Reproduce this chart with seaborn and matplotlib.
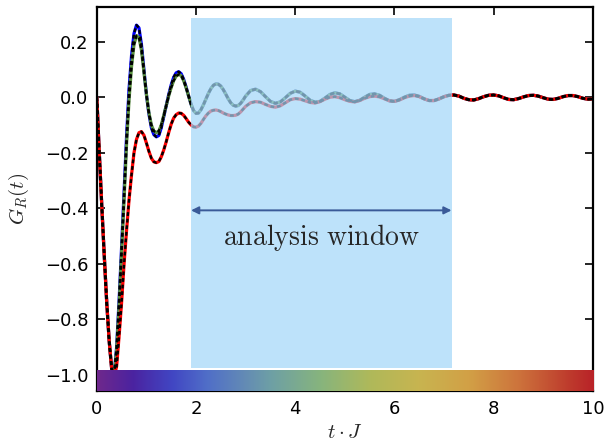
import numpy as np
import seaborn as sns
import matplotlib.pyplot as plt
from matplotlib.colors import LinearSegmentedColormap

# time grid: fine steps early, coarser after t=3
t = np.round(np.r_[np.arange(0, 2.99, 0.05), np.arange(3.0, 10.01, 0.1)], 2)

# blue curve
blue = [0, -0.20, -0.39, -0.57, -0.74, -0.88, -0.98, -1.00, -0.90, -0.73,
        -0.54, -0.34, -0.14, 0.03, 0.15, 0.23, 0.26, 0.25, 0.19, 0.10,
        0.01, -0.06, -0.11, -0.135, -0.143, -0.138, -0.11, -0.07, -0.03, 0.01,
        0.045, 0.072, 0.088, 0.092, 0.085, 0.065, 0.037, 0.005, -0.025, -0.048,
        -0.058, -0.057, -0.045, -0.027, -0.006, 0.014, 0.031, 0.043, 0.048, 0.047,
        0.040, 0.027, 0.011, -0.006, -0.020, -0.029, -0.032, -0.030, -0.022, -0.010,
        0.004, 0.024, 0.029, 0.020, 0.002, -0.015, -0.022, -0.017, -0.002, 0.014,
        0.022, 0.018, 0.004, -0.011, -0.018, -0.015, -0.003, 0.010, 0.016, 0.012,
        0.000, -0.012, -0.016, -0.011, 0.000, 0.010, 0.012, 0.007, -0.004, -0.013,
        -0.015, -0.009, 0.000, 0.007, 0.008, 0.003, -0.006, -0.012, -0.012, -0.006,
        0.002, 0.007, 0.008, 0.004, -0.004, -0.009, -0.010, -0.005, 0.002, 0.007,
        0.008, 0.005, -0.002, -0.008, -0.009, -0.005, 0.001, 0.006, 0.007, 0.004,
        -0.002, -0.007, -0.008, -0.004, 0.002, 0.006, 0.006, 0.002, -0.004, -0.007,
        -0.006]

# green curve differs from blue only up to t=1.85
green_head = [0, -0.20, -0.39, -0.57, -0.74, -0.88, -0.98, -1.00, -0.91, -0.75,
              -0.56, -0.37, -0.17, -0.01, 0.11, 0.19, 0.222, 0.215, 0.17, 0.09,
              0.01, -0.055, -0.10, -0.122, -0.128, -0.122, -0.10, -0.065, -0.03, 0.005,
              0.035, 0.06, 0.076, 0.082, 0.078, 0.06, 0.034, 0.004]
green = green_head + blue[len(green_head):]

# red curve differs from blue up to t=6.5
red_head = [0, -0.20, -0.39, -0.57, -0.74, -0.88, -0.98, -1.01, -0.97, -0.86,
            -0.74, -0.60, -0.48, -0.37, -0.28, -0.20, -0.152, -0.128, -0.124, -0.137,
            -0.165, -0.195, -0.22, -0.233, -0.236, -0.232, -0.215, -0.19, -0.16, -0.127,
            -0.097, -0.075, -0.063, -0.057, -0.058, -0.065, -0.077, -0.09, -0.10, -0.107,
            -0.108, -0.104, -0.094, -0.08, -0.067, -0.057, -0.05, -0.047, -0.046, -0.048,
            -0.052, -0.057, -0.061, -0.064, -0.066, -0.066, -0.065, -0.061, -0.053, -0.043,
            -0.033, -0.02, -0.016, -0.018, -0.026, -0.033, -0.036, -0.031, -0.02, -0.009,
            -0.005, -0.007, -0.013, -0.019, -0.021, -0.016, -0.007, 0.0, 0.002, -0.002,
            -0.009, -0.015, -0.017, -0.012, -0.004, 0.002, 0.004, 0.001, -0.006, -0.013,
            -0.015, -0.01, -0.002, 0.004, 0.006, 0.002]
red = red_head + blue[len(red_head):]

window = [1.9, 7.15]

# colour strip along the time axis
strip_pos = [0, 0.7, 1.5, 2.2, 3.0, 3.5, 4.5, 5.5, 6.5, 7.5, 8.5, 9.5, 10]
strip_colors = ['#6e288c', '#4b23a0', '#4146c3', '#506ec8', '#648cb4', '#6ea0a5',
                '#87b47d', '#afb95a', '#c8b450', '#d2a046', '#cd733c', '#be3c2d', '#b92328']

sns.set_style('ticks')
plt.rcParams['mathtext.fontset'] = 'cm'
plt.rcParams['font.family'] = ['DejaVu Sans']

fig = plt.figure(figsize=(6.05, 4.43), dpi=100)
ax = fig.add_axes([0.160, 0.117, 0.820, 0.867])

for y, c in [(blue, 'blue'), (green, '#5a9040'), (red, 'red')]:
    sns.lineplot(x=t, y=y, color=c, lw=2.3, ax=ax, zorder=2)
for y in [blue, green, red]:
    sns.lineplot(x=t, y=y, color='black', lw=1.7, linestyle=(0, (1.6, 1.2)), ax=ax, zorder=2.1)

# faded look inside the window: translucent box above the lines
ax.fill_between(window, -0.978, 0.285, color='#a2d6f8', alpha=0.7, lw=0, zorder=2.3)

cmap = LinearSegmentedColormap.from_list('strip', list(zip(np.array(strip_pos) / 10, strip_colors)))
ax.imshow(np.linspace(0, 1, 256)[None, :], cmap=cmap, aspect='auto',
          extent=[0, 10, -1.06, -0.987], zorder=3, interpolation='bilinear')

ax.annotate('', xy=(window[1], -0.408), xytext=(window[0], -0.408),
            arrowprops=dict(arrowstyle='<|-|>', color='#3a5a98', lw=1.4, mutation_scale=11,
                            shrinkA=0, shrinkB=0), zorder=4)
ax.text(np.mean(window), -0.505, r'$\mathrm{analysis\ window}$', ha='center', va='center',
        fontsize=20, zorder=4)

ax.set_xlim(0, 10)
ax.set_ylim(-1.06, 0.325)
ax.set_xticks([0, 2, 4, 6, 8, 10])
ax.set_yticks([-1.0, -0.8, -0.6, -0.4, -0.2, 0.0, 0.2])
ax.set_yticklabels(['−1.0', '−0.8', '−0.6', '−0.4', '−0.2', '0.0', '0.2'])
ax.tick_params(direction='in', top=True, right=True, length=6, width=1.2, labelsize=13,
               colors='black', pad=6)
for s in ax.spines.values():
    s.set_linewidth(1.6)
    s.set_color('black')
ax.set_xlabel(r'$t \cdot J$', fontsize=15, labelpad=3)
ax.set_ylabel(r'$G_R(t)$', fontsize=15, labelpad=10)

fig.savefig('out.png', dpi=100)
